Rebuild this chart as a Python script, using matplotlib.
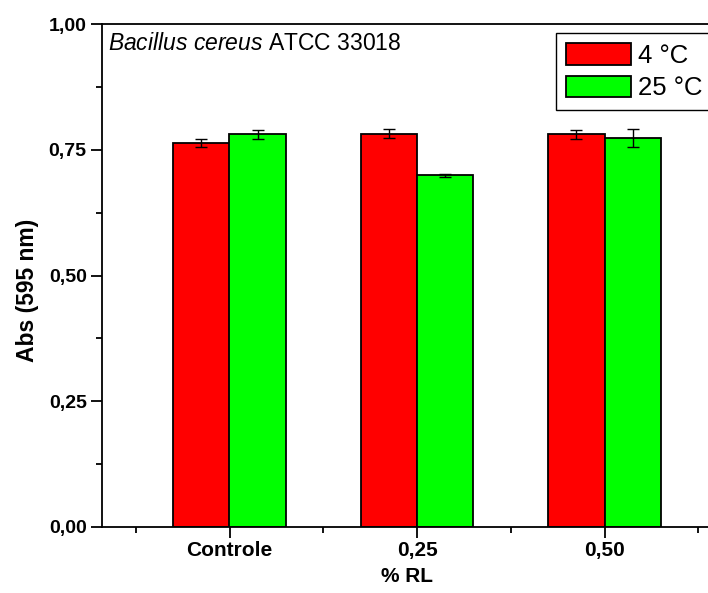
import matplotlib.pyplot as plt
import numpy as np

plt.rcParams['font.family'] = ['Liberation Sans', 'DejaVu Sans']
plt.rcParams['mathtext.fontset'] = 'custom'
plt.rcParams['mathtext.it'] = 'Liberation Sans:italic'
plt.rcParams['mathtext.rm'] = 'Liberation Sans'

categories = ["Controle", "0,25", "0,50"]
abs_4c = [0.764, 0.782, 0.781]
err_4c = [0.008, 0.009, 0.009]
abs_25c = [0.781, 0.699, 0.774]
err_25c = [0.009, 0.003, 0.018]
series_labels = ["4 °C", "25 °C"]

W, H = 708, 593
fig = plt.figure(figsize=(W / 100, H / 100), dpi=100)

# axes run past the right edge of the image, like the reference
left_px, right_px, top_px, bottom_px = 102, 712, 24, 527
ax = fig.add_axes([left_px / W, 1 - bottom_px / H,
                   (right_px - left_px) / W, (bottom_px - top_px) / H])

x = np.arange(1, len(categories) + 1)
bw = 0.3
ax.bar(x - bw / 2, abs_4c, bw, color="#ff0000", edgecolor="black", linewidth=1.3,
       yerr=err_4c, capsize=4, error_kw=dict(elinewidth=1, capthick=1, ecolor="black"),
       label=series_labels[0])
ax.bar(x + bw / 2, abs_25c, bw, color="#00ff00", edgecolor="black", linewidth=1.3,
       yerr=err_25c, capsize=4, error_kw=dict(elinewidth=1, capthick=1, ecolor="black"),
       label=series_labels[1])

ax.set_xlim(0.32, 0.32 + (right_px - left_px) / 187.5)
ax.set_ylim(0, 1.0)

ax.set_xticks(x)
ax.set_xticklabels(categories, fontsize=15, fontweight="bold")
ax.set_xticks([0.5, 1.5, 2.5, 3.5], minor=True)
yt = [0, 0.25, 0.5, 0.75, 1.0]
ax.set_yticks(yt)
ax.set_yticklabels([("%.2f" % v).replace(".", ",") for v in yt], fontsize=14, fontweight="bold")
ax.set_yticks(np.arange(0.125, 1.0, 0.25), minor=True)

ax.tick_params(axis="both", which="major", direction="out", length=8, width=1.3, pad=3)
ax.tick_params(axis="both", which="minor", direction="out", length=4, width=1.3)
ax.tick_params(axis="x", which="major", pad=2)

for s in ax.spines.values():
    s.set_linewidth(1.3)

ax.set_ylabel("Abs (595 nm)", fontsize=16.5, fontweight="bold")
ax.yaxis.set_label_coords(-0.103, 0.471)
ax.set_xlabel("% RL", fontsize=15, fontweight="bold", labelpad=5)

ax.text(108 / W, 1 - 44 / H, r"$\it{Bacillus\ cereus}$ ATCC 33018", transform=fig.transFigure,
        fontsize=16.5, va="center", ha="left")

leg = ax.legend(loc="upper left", bbox_to_anchor=(556 / W, 1 - 33 / H),
                bbox_transform=fig.transFigure, fontsize=18.5, frameon=True, fancybox=False,
                edgecolor="black", framealpha=1, handlelength=2.5, handleheight=0.9,
                handletextpad=0.3, labelspacing=0.3, borderpad=0.4, borderaxespad=0)
leg.get_frame().set_linewidth(1.0)

fig.savefig("out.png", dpi=100)
